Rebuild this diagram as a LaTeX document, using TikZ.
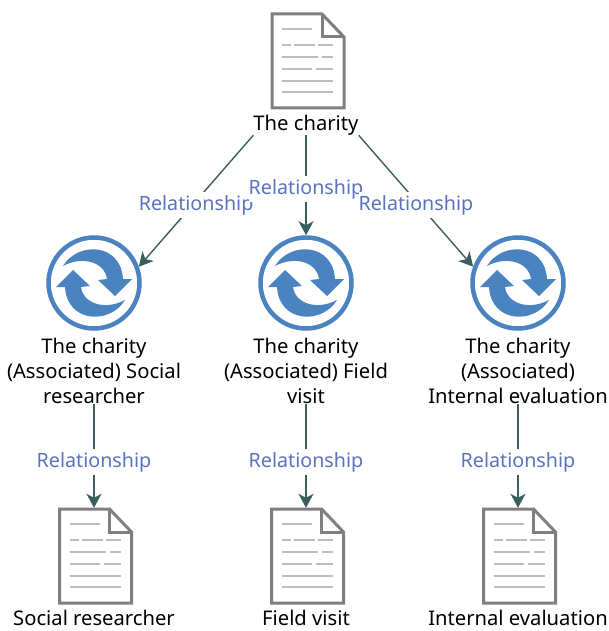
\documentclass[tikz,border=0pt]{standalone}
\usepackage{fontspec}
\usetikzlibrary{arrows.meta}
\setmainfont{Noto Sans}
\definecolor{linkcol}{HTML}{3A5F5F}
\definecolor{relcol}{HTML}{5B73BF}
\definecolor{ringcol}{HTML}{4A83BF}
\definecolor{docedge}{HTML}{7F7F7F}
\definecolor{docline}{HTML}{BDBDBD}
\tikzset{
  rellabel/.style={fill=white,text=relcol,inner xsep=0pt,inner ysep=3pt,yshift=-4pt,font=\fontsize{19.7}{25}\selectfont},
  namelabel/.style={text=black,inner sep=0pt,align=center,font=\fontsize{20.2}{25}\selectfont},
  link/.style={-{Stealth[length=14pt,width=15pt,inset=4pt]},color=linkcol,line width=1.4pt},
  docbox/.style={shape=rectangle,minimum width=74pt,minimum height=96pt,inner sep=0pt},
  cyclebox/.style={shape=circle,draw=ringcol,line width=4.5pt,minimum size=91pt,inner sep=0pt},
  docicon/.pic={
    \draw[docedge,fill=white,line width=3pt,line join=miter] (-36,-47) -- (14,-47) -- (36,-24) -- (36,47) -- (-36,47) -- cycle;
    \draw[docedge,line width=3pt,line join=miter] (14,-47) -- (14,-24) -- (36,-24);
    \draw[docline,line width=1.5pt] (-26,-32) -- (4,-32);
    \draw[docline,line width=1.5pt] (-26,-16) -- (-17,-16) (-14,-16) -- (7,-16) (10,-16) -- (25,-16);
    \draw[docline,line width=1.5pt] (-26,-4) -- (10,-4) (14,-4) -- (25,-4);
    \draw[docline,line width=1.5pt] (-26,8) -- (4,8) (8,8) -- (25,8);
    \draw[docline,line width=1.5pt] (-26,20) -- (25,20);
    \draw[docline,line width=1.5pt] (-26,31) -- (25,31);
  },
  swirl/.pic={
    \fill[ringcol] (-31,-17) .. controls (-16,-42) and (27,-40) .. (29,-4) -- (38,-4) -- (21,13) -- (4,-3) -- (13,-4) .. controls (11,-20) and (-10,-28) .. (-31,-17) -- cycle;
  }
}

\begin{document}
\begin{tikzpicture}[x=1pt,y=-1pt]
\useasboundingbox (0,0) rectangle (608,631);

\node[docbox] (D0) at (308,61) {};
\node[namelabel] (T) at (306,125) {The charity};

\node[cyclebox] (C1) at (94,283) {};
\node[cyclebox] (C2) at (306,283) {};
\node[cyclebox] (C3) at (518,283) {};

\node[namelabel] (L1) at (94,371) {The charity\\(Associated) Social\\researcher};
\node[namelabel] (L2) at (306,371) {The charity\\(Associated) Field\\visit};
\node[namelabel] (L3) at (518,371) {The charity\\(Associated)\\Internal evaluation};

\node[docbox] (D1) at (95.5,556) {};
\node[docbox] (D2) at (307.5,556) {};
\node[docbox] (D3) at (519.5,556) {};

\node[namelabel] (N1) at (94,618) {Social researcher};
\node[namelabel] (N2) at (306,618) {Field visit};
\node[namelabel] (N3) at (518,618) {Internal evaluation};

\pic at (D0) {docicon};
\pic at (D1) {docicon};
\pic at (D2) {docicon};
\pic at (D3) {docicon};

\pic at (C1) {swirl};
\pic[rotate=180] at (C1) {swirl};
\pic at (C2) {swirl};
\pic[rotate=180] at (C2) {swirl};
\pic at (C3) {swirl};
\pic[rotate=180] at (C3) {swirl};

\path [link] (T.south west) edge node[rellabel] {Relationship} (C1.20);
\path [link] (T.south) edge node[rellabel] {Relationship} (C2);
\path [link] (T.south east) edge node[rellabel] {Relationship} (C3.160);

\path [link] (L1) edge node[rellabel,pos=0.52] {Relationship} (D1.north -| L1);
\path [link] (L2) edge node[rellabel,pos=0.52] {Relationship} (D2.north -| L2);
\path [link] (L3) edge node[rellabel,pos=0.52] {Relationship} (D3.north -| L3);

\end{tikzpicture}
\end{document}
